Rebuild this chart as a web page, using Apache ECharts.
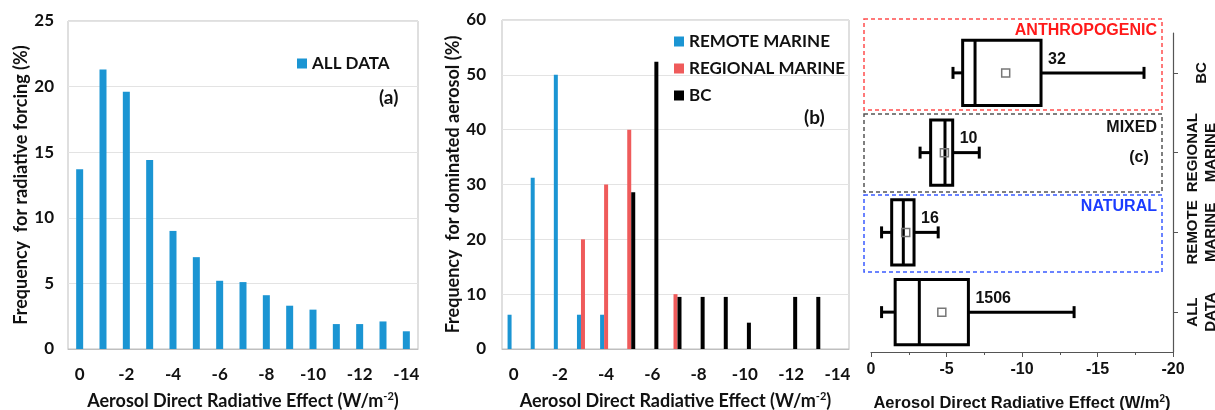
<!DOCTYPE html>
<html>
<head>
<meta charset="utf-8">
<script src="https://cdn.jsdelivr.net/npm/echarts@6/dist/echarts.min.js"></script>
<style>
  html, body { margin: 0; padding: 0; background: #fff; }
  #chart { width: 1215px; height: 410px; }
</style>
</head>
<body>
<div id="chart"></div>
<script>
// ---- data ----
// Radiative effect bins (W/m^-2), 0 to -14
const effectBins = ['0', '-1', '-2', '-3', '-4', '-5', '-6', '-7', '-8', '-9', '-10', '-11', '-12', '-13', '-14'];

// (a) frequency for all data (%)
const allDataFreq = [13.7, 21.3, 19.6, 14.4, 9.0, 7.0, 5.2, 5.1, 4.1, 3.3, 3.0, 1.9, 1.9, 2.1, 1.35];

// (b) frequency per dominated aerosol type (%)
const remoteMarineFreq   = [6.25, 31.25, 50, 6.25, 6.25, null, null, null, null, null, null, null, null, null, null];
const regionalMarineFreq = [null, null, null, 20, 30, 40, null, 10, null, null, null, null, null, null, null];
const bcFreq             = [null, null, null, null, null, 28.6, 52.4, 9.5, 9.5, 9.5, 4.8, null, 9.5, 9.5, null];

// (c) box statistics per group, bottom to top
const boxGroups   = ['ALL\nDATA', 'REMOTE\nMARINE', 'REGIONAL\nMARINE', 'BC'];
const whiskerLow  = [-0.7, -0.7, -3.25, -5.43];
const quartile1   = [-1.6, -1.37, -3.95, -6.07];
const medians     = [-3.2, -2.14, -4.9, -6.89];
const quartile3   = [-6.45, -2.85, -5.41, -11.26];
const whiskerHigh = [-13.45, -4.45, -7.17, -18.08];
const means       = [-4.69, -2.3, -4.86, -8.92];
const sampleCount = [1506, 16, 10, 32];

// ---- styling ----
const BLUE = '#1b95d3';
const RED = '#ef5b5b';
const CAL = 'Lato';
const ARIAL = '"Liberation Sans", Arial, sans-serif';

const boxData = boxGroups.map((g, i) => [i, whiskerLow[i], quartile1[i], medians[i], quartile3[i], whiskerHigh[i], means[i], sampleCount[i]]);

function renderBox(params, api) {
  const cat = api.value(0);
  const band = api.size([0, 1])[1];
  const h = band * 0.82;
  const cap = band * 0.15;
  const pt = k => api.coord([api.value(k), cat]);
  const lo = pt(1), a = pt(2), m = pt(3), b = pt(4), hi = pt(5), mn = pt(6);
  const cy = lo[1];
  const line = { stroke: '#000', lineWidth: 3 };
  return {
    type: 'group',
    children: [
      { type: 'line', shape: { x1: lo[0], y1: cy, x2: a[0], y2: cy }, style: line },
      { type: 'line', shape: { x1: b[0], y1: cy, x2: hi[0], y2: cy }, style: line },
      { type: 'line', shape: { x1: lo[0], y1: cy - cap / 2, x2: lo[0], y2: cy + cap / 2 }, style: line },
      { type: 'line', shape: { x1: hi[0], y1: cy - cap / 2, x2: hi[0], y2: cy + cap / 2 }, style: line },
      { type: 'rect', shape: { x: a[0], y: cy - h / 2, width: b[0] - a[0], height: h }, style: { stroke: '#000', lineWidth: 3, fill: 'rgba(0,0,0,0)' } },
      { type: 'line', shape: { x1: m[0], y1: cy - h / 2, x2: m[0], y2: cy + h / 2 }, style: line },
      { type: 'rect', shape: { x: mn[0] - 4, y: cy - 4, width: 8, height: 8 }, style: { stroke: '#777', lineWidth: 1.5, fill: 'rgba(255,255,255,0)' } },
      { type: 'text', x: b[0] + 7, y: cy - h / 2 + 19, style: { text: String(api.value(7)), fill: '#111', font: 'bold 16px ' + ARIAL, textAlign: 'left', textVerticalAlign: 'middle' } }
    ]
  };
}

const supRich = {
  sup: { fontFamily: CAL, fontWeight: 'bold', fontSize: 11, verticalAlign: 'top', padding: [0, 0, 9, 0], color: '#111' }
};

const chart = echarts.init(document.getElementById('chart'), null, { renderer: 'canvas' });

chart.setOption({
  backgroundColor: '#fff',
  animation: false,
  grid: [
    { left: 68, top: 21, width: 350, height: 328, outerBoundsMode: 'none', show: true, borderColor: '#bfbfbf', borderWidth: 1 },
    { left: 502, top: 20, width: 347, height: 329, outerBoundsMode: 'none', show: true, borderColor: '#bfbfbf', borderWidth: 1 },
    { left: 871, top: 33, width: 302, height: 319, outerBoundsMode: 'none' }
  ],
  legend: [
    {
      data: ['ALL DATA'], left: 292, top: 50, itemWidth: 10, itemHeight: 10, icon: 'rect', selectedMode: false,
      textStyle: { fontFamily: CAL, fontWeight: 'bold', fontSize: 17, color: '#111' }
    },
    {
      data: ['REMOTE MARINE', 'REGIONAL MARINE', 'BC'], orient: 'vertical', left: 669, top: 28, itemGap: 10,
      itemWidth: 10, itemHeight: 10, icon: 'rect', selectedMode: false,
      textStyle: { fontFamily: CAL, fontWeight: 'bold', fontSize: 17, color: '#111' }
    }
  ],
  xAxis: [
    {
      type: 'category', gridIndex: 0, data: effectBins,
      axisLine: { lineStyle: { color: '#bfbfbf' } }, axisTick: { show: false },
      axisLabel: { interval: 1, margin: 17, fontFamily: CAL, fontWeight: 'bold', fontSize: 17, color: '#111' },
      name: 'Aerosol Direct Radiative Effect (W/m{sup|-2})', nameLocation: 'middle', nameGap: 42,
      nameTextStyle: { fontFamily: CAL, fontWeight: 'bold', fontSize: 18, color: '#111', rich: supRich }
    },
    {
      type: 'category', gridIndex: 1, data: effectBins,
      axisLine: { lineStyle: { color: '#bfbfbf' } }, axisTick: { show: false },
      axisLabel: { interval: 1, margin: 17, fontFamily: CAL, fontWeight: 'bold', fontSize: 17, color: '#111' },
      name: 'Aerosol Direct Radiative Effect (W/m{sup|-2})', nameLocation: 'middle', nameGap: 42,
      nameTextStyle: { fontFamily: CAL, fontWeight: 'bold', fontSize: 18, color: '#111', rich: supRich }
    },
    {
      type: 'value', gridIndex: 2, inverse: true, min: -20, max: 0, interval: 5,
      axisLine: { show: true, onZero: false, lineStyle: { color: '#555', width: 1.2 } },
      axisTick: { show: true, length: 5, lineStyle: { color: '#555' } },
      minorTick: { show: true, splitNumber: 2, length: 3, lineStyle: { color: '#555' } },
      splitLine: { show: false },
      axisLabel: { margin: 10, fontFamily: ARIAL, fontWeight: 'bold', fontSize: 16, color: '#111' },
      name: 'Aerosol Direct Radiative Effect (W/m{sup|2})', nameLocation: 'middle', nameGap: 42,
      nameTextStyle: {
        fontFamily: ARIAL, fontWeight: 'bold', fontSize: 16.5, color: '#111',
        rich: { sup: { fontFamily: ARIAL, fontWeight: 'bold', fontSize: 10, verticalAlign: 'top', padding: [0, 0, 9, 0], color: '#111' } }
      }
    }
  ],
  yAxis: [
    {
      type: 'value', gridIndex: 0, min: 0, max: 25, interval: 5,
      axisLine: { show: false }, axisTick: { show: false },
      splitLine: { lineStyle: { color: '#e3e3e3' } },
      axisLabel: { margin: 14, fontFamily: CAL, fontWeight: 'bold', fontSize: 17, color: '#111' },
      name: 'Frequency  for radiative forcing (%)', nameLocation: 'middle', nameGap: 37,
      nameTextStyle: { fontFamily: CAL, fontWeight: 'bold', fontSize: 18, color: '#111' }
    },
    {
      type: 'value', gridIndex: 1, min: 0, max: 60, interval: 10,
      axisLine: { show: false }, axisTick: { show: false },
      splitLine: { lineStyle: { color: '#e3e3e3' } },
      axisLabel: { margin: 16, fontFamily: CAL, fontWeight: 'bold', fontSize: 17, color: '#111' },
      name: 'Frequency  for dominated aerosol (%)', nameLocation: 'middle', nameGap: 40,
      nameTextStyle: { fontFamily: CAL, fontWeight: 'bold', fontSize: 18, color: '#111' }
    },
    {
      type: 'category', gridIndex: 2, data: boxGroups, position: 'right',
      axisLine: { show: true, onZero: false, lineStyle: { color: '#555', width: 1.2 } },
      axisTick: { show: true, alignWithLabel: true, length: 5, lineStyle: { color: '#555' } },
      axisLabel: { interval: 0, rotate: 90, margin: 29, verticalAlign: 'middle', align: 'center', lineHeight: 18,
                   fontFamily: ARIAL, fontWeight: 'bold', fontSize: 15, color: '#111' }
    }
  ],
  series: [
    { name: 'ALL DATA', type: 'bar', xAxisIndex: 0, yAxisIndex: 0, data: allDataFreq, barWidth: 7, itemStyle: { color: BLUE } },
    { name: 'REMOTE MARINE', type: 'bar', xAxisIndex: 1, yAxisIndex: 1, data: remoteMarineFreq, barWidth: 4, barGap: '0%', itemStyle: { color: BLUE } },
    { name: 'REGIONAL MARINE', type: 'bar', xAxisIndex: 1, yAxisIndex: 1, data: regionalMarineFreq, barWidth: 4, barGap: '0%', itemStyle: { color: RED } },
    { name: 'BC', type: 'bar', xAxisIndex: 1, yAxisIndex: 1, data: bcFreq, barWidth: 4, barGap: '0%', itemStyle: { color: '#000' } },
    {
      name: 'Radiative effect spread', type: 'custom', xAxisIndex: 2, yAxisIndex: 2,
      data: boxData, encode: { y: 0, x: [1, 2, 3, 4, 5] }, renderItem: renderBox, z: 5
    }
  ],
  graphic: [
    { type: 'text', left: 379, top: 88, style: { text: '(a)', font: 'bold 19px ' + CAL, fill: '#111' } },
    { type: 'text', left: 804, top: 108, style: { text: '(b)', font: 'bold 19px ' + CAL, fill: '#111' } },
    // aerosol source regions
    { type: 'rect', shape: { x: 864, y: 19, width: 298, height: 91 }, style: { fill: 'none', stroke: '#ff4d4d', lineWidth: 1.5, lineDash: [4, 3] } },
    { type: 'rect', shape: { x: 864, y: 114, width: 298, height: 78 }, style: { fill: 'none', stroke: '#555', lineWidth: 1.5, lineDash: [4, 3] } },
    { type: 'rect', shape: { x: 864, y: 195, width: 298, height: 77 }, style: { fill: 'none', stroke: '#3a5bff', lineWidth: 1.5, lineDash: [4, 3] } },
    { type: 'text', x: 1157, y: 31, style: { text: 'ANTHROPOGENIC', font: 'bold 16px ' + ARIAL, fill: '#ff1a1a', textAlign: 'right', textVerticalAlign: 'middle' } },
    { type: 'text', x: 1157, y: 128, style: { text: 'MIXED', font: 'bold 16px ' + ARIAL, fill: '#111', textAlign: 'right', textVerticalAlign: 'middle' } },
    { type: 'text', x: 1139, y: 158, style: { text: '(c)', font: 'bold 16px ' + ARIAL, fill: '#111', textAlign: 'center', textVerticalAlign: 'middle' } },
    { type: 'text', x: 1157, y: 207, style: { text: 'NATURAL', font: 'bold 16px ' + ARIAL, fill: '#1a3cff', textAlign: 'right', textVerticalAlign: 'middle' } }
  ]
});
</script>
</body>
</html>
